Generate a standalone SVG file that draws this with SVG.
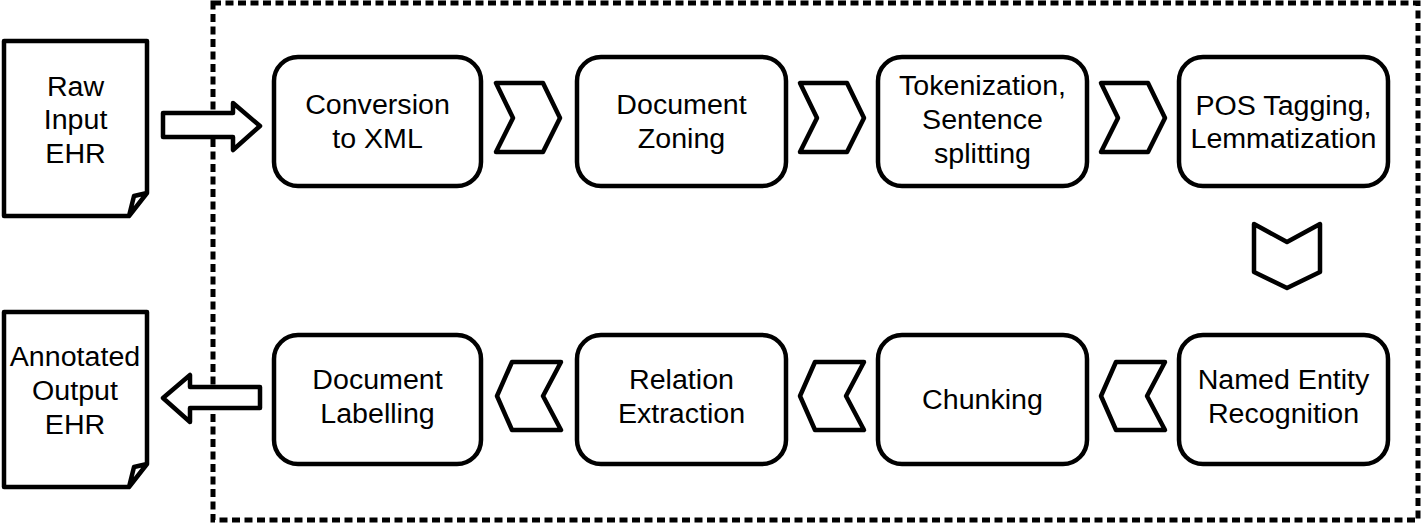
<svg xmlns="http://www.w3.org/2000/svg" width="1422" height="525" viewBox="0 0 1422 525">
<style>
.ln{fill:#fff;stroke:#000;stroke-width:4.5;stroke-linejoin:round}
.box{fill:#fff;stroke:#000;stroke-width:4.5}
.t{font-family:"Liberation Sans",Arial,sans-serif;font-size:27px;fill:#000;text-anchor:middle}
</style>
<defs>
<polygon id="chevR" points="0,0 47,0 64,35 47,69 0,69 17,35"/>
<polygon id="chevL" points="0,34 15,0 64,0 46,34 64,68 15,68"/>
<path id="doc" d="M4,41 H147 V193 L129,216 H4 Z M147,193 L134,196 L129,216"/>
</defs>
<rect x="213" y="3" width="1205" height="517" fill="none" stroke="#000" stroke-width="5" stroke-dasharray="8 4.5"/>
<g id="raw-input">
<use href="#doc" class="ln"/>
<g transform="translate(75.5 0) scale(1.06 1)"><text class="t" x="0" y="96">Raw</text><text class="t" x="0" y="129">Input</text><text class="t" x="0" y="163">EHR</text></g>
</g>
<g id="annotated-output">
<use href="#doc" class="ln" transform="translate(0 271)"/>
<g transform="translate(75 0) scale(1.06 1)"><text class="t" x="0" y="366">Annotated</text><text class="t" x="0" y="400">Output</text><text class="t" x="0" y="434">EHR</text></g>
</g>
<g id="conversion">
<rect class="box" x="274" y="57" width="207" height="129" rx="24"/>
<g transform="translate(377.5 0) scale(1.06 1)"><text class="t" x="0" y="114">Conversion</text><text class="t" x="0" y="148">to XML</text></g>
</g>
<g id="zoning">
<rect class="box" x="577" y="57" width="209" height="129" rx="24"/>
<g transform="translate(681.5 0) scale(1.06 1)"><text class="t" x="0" y="114">Document</text><text class="t" x="0" y="148">Zoning</text></g>
</g>
<g id="tokenization">
<rect class="box" x="878" y="57" width="209" height="129" rx="24"/>
<g transform="translate(982.5 0) scale(1.06 1)"><text class="t" x="0" y="95">Tokenization,</text><text class="t" x="0" y="129">Sentence</text><text class="t" x="0" y="163">splitting</text></g>
</g>
<g id="pos">
<rect class="box" x="1179" y="57" width="209" height="129" rx="24"/>
<g transform="translate(1283.5 0) scale(1.06 1)"><text class="t" x="0" y="115">POS Tagging,</text><text class="t" x="0" y="148">Lemmatization</text></g>
</g>
<g id="ner">
<rect class="box" x="1179" y="335" width="209" height="129" rx="24"/>
<g transform="translate(1283.5 0) scale(1.06 1)"><text class="t" x="0" y="389">Named Entity</text><text class="t" x="0" y="423">Recognition</text></g>
</g>
<g id="chunking">
<rect class="box" x="878" y="335" width="209" height="129" rx="24"/>
<g transform="translate(982.5 0) scale(1.06 1)"><text class="t" x="0" y="409">Chunking</text></g>
</g>
<g id="relation">
<rect class="box" x="577" y="335" width="209" height="129" rx="24"/>
<g transform="translate(681.5 0) scale(1.06 1)"><text class="t" x="0" y="389">Relation</text><text class="t" x="0" y="423">Extraction</text></g>
</g>
<g id="labelling">
<rect class="box" x="274" y="335" width="207" height="129" rx="24"/>
<g transform="translate(377.5 0) scale(1.06 1)"><text class="t" x="0" y="389">Document</text><text class="t" x="0" y="423">Labelling</text></g>
</g>
<g id="connectors">
<polygon class="ln" points="163,113 233,113 233,103 260,126 233,150 233,137 163,137"/>
<use href="#chevR" class="ln" x="496" y="83"/>
<use href="#chevR" class="ln" x="800" y="83"/>
<use href="#chevR" class="ln" x="1101" y="83"/>
<polygon class="ln" points="1254,224 1287,242 1320,224 1320,272 1287,288 1254,272"/>
<use href="#chevL" class="ln" x="1101" y="362"/>
<use href="#chevL" class="ln" x="800" y="362"/>
<use href="#chevL" class="ln" x="497" y="362"/>
<polygon class="ln" points="163,398 190,375 190,387 260,387 260,408 190,408 190,422"/>
</g>
</svg>
